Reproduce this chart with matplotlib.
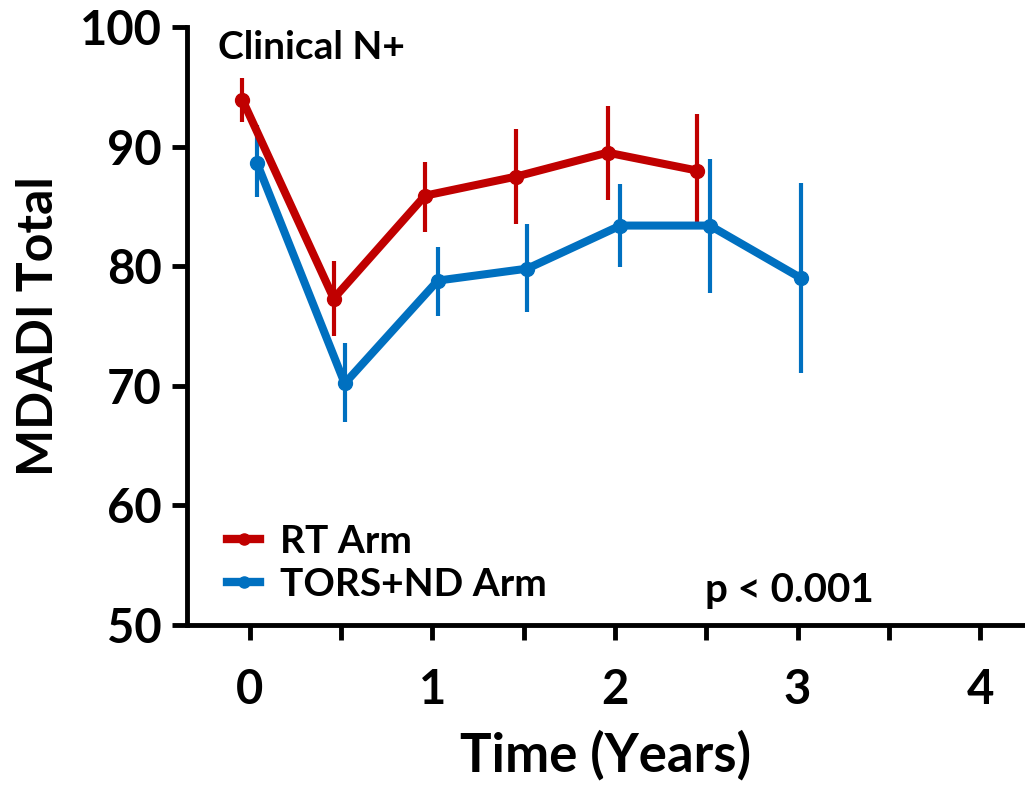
import matplotlib.pyplot as plt
import numpy as np

plt.rcParams['font.family'] = ['Lato', 'DejaVu Sans']
plt.rcParams['font.weight'] = 'bold'

# RT arm (red)
rt_x = [-0.04, 0.46, 0.96, 1.46, 1.96, 2.45]
rt_y = [93.9, 77.3, 85.9, 87.5, 89.5, 88.0]
rt_lo = [92.1, 74.2, 82.9, 83.5, 85.5, 83.7]
rt_hi = [95.7, 80.4, 88.7, 91.5, 93.4, 92.7]

# TORS+ND arm (blue)
tors_x = [0.04, 0.52, 1.03, 1.52, 2.03, 2.52, 3.02]
tors_y = [88.6, 70.2, 78.8, 79.8, 83.4, 83.4, 79.0]
tors_lo = [85.8, 67.0, 75.8, 76.2, 79.9, 77.8, 71.1]
tors_hi = [91.8, 73.6, 81.6, 83.5, 86.9, 89.0, 87.0]

red = '#C00000'
blue = '#0070C0'

fig = plt.figure(figsize=(10.25, 7.86), dpi=100)
ax = fig.add_axes([0.1824, 0.2048, 0.8176, 0.7608])

def arm(x, y, lo, hi, c, label):
    y = np.array(y)
    yerr = [y - np.array(lo), np.array(hi) - y]
    ax.errorbar(x, y, yerr=yerr, fmt='none', ecolor=c, elinewidth=3, capsize=0, zorder=2)
    ax.plot(x, y, color=c, lw=5.8, marker='o', ms=10, label=label, zorder=3)

arm(rt_x, rt_y, rt_lo, rt_hi, red, 'RT Arm')
arm(tors_x, tors_y, tors_lo, tors_hi, blue, 'TORS+ND Arm')

ax.set_xlim(-0.344, 4.246)
ax.set_ylim(50, 100)
ax.set_yticks(np.arange(50, 101, 10))
ax.set_xticks([0, 1, 2, 3, 4])
ax.set_xticks(np.arange(0.5, 4.0, 1.0), minor=True)
ax.tick_params(axis='both', which='both', direction='out', length=11, width=3.5,
               labelsize=34, pad=7)
ax.tick_params(axis='x', pad=20)
for lab in ax.get_xticklabels() + ax.get_yticklabels():
    lab.set_fontweight('bold')

for s in ['top', 'right']:
    ax.spines[s].set_visible(False)
for s in ['left', 'bottom']:
    ax.spines[s].set_linewidth(3.5)

ax.set_ylabel('MDADI Total', fontsize=36, fontweight='bold', labelpad=14)
ax.set_xlabel('Time (Years)', fontsize=38, fontweight='bold', labelpad=13)

ax.text(0.037, 0.995, 'Clinical N+', transform=ax.transAxes, fontsize=28,
        fontweight='bold', va='top', ha='left')
ax.text(0.618, 0.058, 'p < 0.001', transform=ax.transAxes, fontsize=29,
        fontweight='bold', va='center', ha='left')

leg = ax.legend(loc='lower left', bbox_to_anchor=(0.02, 0.0), frameon=False,
                fontsize=28, handlelength=0.85, handletextpad=0.5, labelspacing=0.2,
                borderaxespad=0.2)
for t in leg.get_texts():
    t.set_fontweight('bold')
for h in leg.get_lines():
    h.set_linewidth(6)
    h.set_markersize(8)

fig.savefig('out.png', dpi=100)
